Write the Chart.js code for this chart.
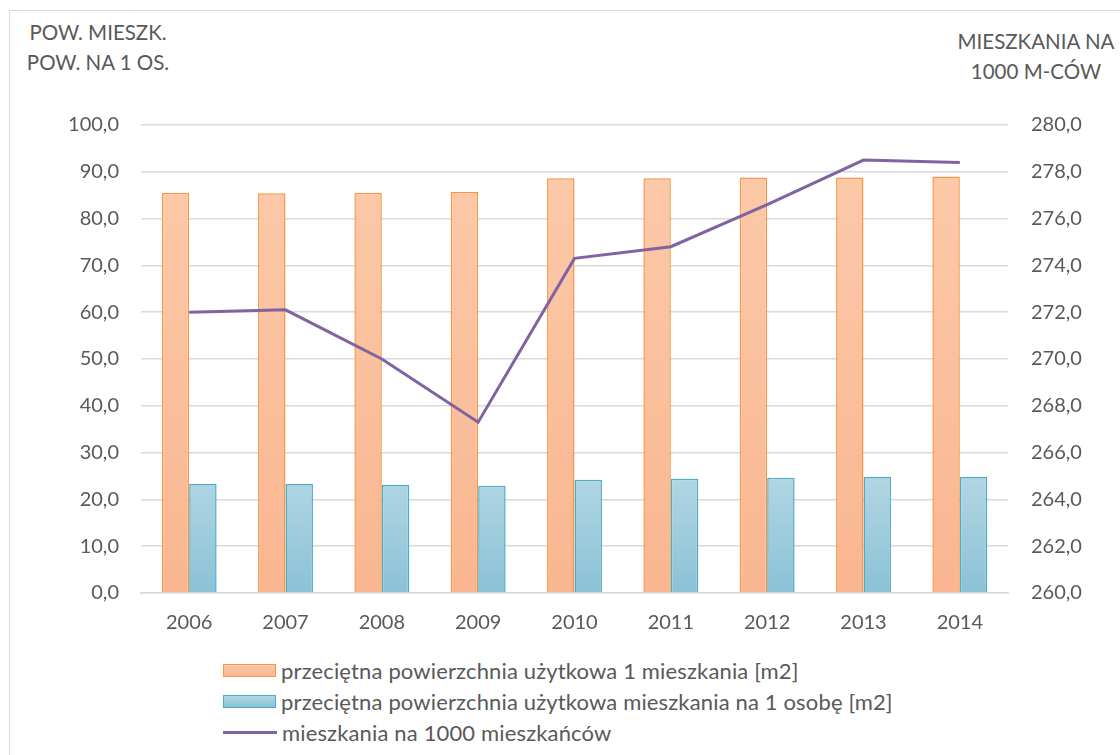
<!DOCTYPE html>
<html>
<head>
<meta charset="utf-8">
<script src="https://cdn.jsdelivr.net/npm/chart.js@4/dist/chart.umd.min.js"></script>
<style>
  body { margin: 0; background: #fff; font-family: 'Lato', sans-serif; color: #595959; }
  #wrap { position: relative; width: 1120px; height: 755px; overflow: hidden; }
  #frame { position: absolute; left: 9px; top: 10px; width: 1200px; height: 800px; border: 1.5px solid #d9d9d9; }
  #box { position: absolute; left: 0; top: 0; width: 1120px; height: 650px; }
  .ttl { position: absolute; font-size: 20.5px; line-height: 30px; text-align: center; white-space: nowrap; }
  #legend { position: absolute; left: 223px; top: 655px; font-size: 22px; letter-spacing: 0.15px; }
  .row { height: 31px; display: flex; align-items: center; }
  .sw { width: 51px; height: 11px; margin-right: 5px; }
  .ln { width: 54px; height: 3px; margin-right: 5px; background: #8064a2; }
</style>
</head>
<body>
<div id="wrap">
  <div id="frame"></div>
  <div class="ttl" style="left:18px; top:17px; width:160px;">POW. MIESZK.<br>POW. NA 1 OS.</div>
  <div class="ttl" style="left:950px; top:26px; width:172px;">MIESZKANIA NA<br>1000 M-CÓW</div>
  <div id="box"><canvas id="chart"></canvas></div>
  <div id="legend"></div>
</div>
<script>
const years = ['2006', '2007', '2008', '2009', '2010', '2011', '2012', '2013', '2014'];
const avgArea = [85.5, 85.4, 85.5, 85.7, 88.6, 88.6, 88.8, 88.8, 89.0];
const areaPerPerson = [23.3, 23.3, 23.1, 22.9, 24.2, 24.4, 24.6, 24.8, 24.8];
const dwellingsPer1000 = [272.0, 272.1, 270.0, 267.3, 274.3, 274.8, 276.6, 278.5, 278.4];
const labels = [
    'przeciętna powierzchnia użytkowa 1 mieszkania [m2]',
    'przeciętna powierzchnia użytkowa mieszkania na 1 osobę [m2]',
    'mieszkania na 1000 mieszkańców'
];

const txt = '#595959';
const fmt = (v) => v.toFixed(1).replace('.', ',');

// gradient od wartosci "hi" do zera na osi lewej
function grad(c, hi, top, bottom) {
    const chart = c.chart;
    const y = chart.scales.y;
    if (!chart.chartArea || !y) return top;
    const g = chart.ctx.createLinearGradient(0, y.getPixelForValue(hi), 0, y.getPixelForValue(0));
    g.addColorStop(0, top);
    g.addColorStop(1, bottom);
    return g;
}

new Chart(document.getElementById('chart'), {
    data: {
        labels: years,
        datasets: [
            {
                type: 'line',
                label: labels[2],
                data: dwellingsPer1000,
                yAxisID: 'y2',
                borderColor: '#8064a2',
                borderWidth: 3,
                pointRadius: 0,
                tension: 0,
                order: 0,
            },
            {
                type: 'bar',
                label: labels[0],
                data: avgArea,
                yAxisID: 'y',
                backgroundColor: (c) => grad(c, 89, '#fcc9a9', '#f9b690'),
                borderColor: '#f79646',
                borderWidth: 1.5,
                categoryPercentage: 0.57,
                barPercentage: 1,
                order: 1,
            },
            {
                type: 'bar',
                label: labels[1],
                data: areaPerPerson,
                yAxisID: 'y',
                backgroundColor: (c) => grad(c, 25, '#b2d6e4', '#8ac2d5'),
                borderColor: '#4bacc6',
                borderWidth: 1.5,
                categoryPercentage: 0.57,
                barPercentage: 1,
                order: 1,
            },
        ],
    },
    options: {
        responsive: true,
        maintainAspectRatio: false,
        animation: false,
        layout: { padding: { top: 125, left: 0, right: 0, bottom: 0 } },
        plugins: { legend: { display: false }, tooltip: { enabled: false } },
        scales: {
            x: {
                grid: { display: false, drawTicks: false },
                border: { color: '#d9d9d9', width: 1.5 },
                ticks: { color: txt, font: { family: 'Lato', size: 20 }, padding: 18 },
                afterFit: (s) => { s.height = 57; },
            },
            y: {
                position: 'left',
                min: 0,
                max: 100,
                grid: { color: '#d9d9d9', lineWidth: 1.5, drawTicks: false },
                border: { display: false },
                ticks: { stepSize: 10, color: txt, font: { family: 'Lato', size: 20 }, padding: 22, callback: fmt },
                afterFit: (s) => { s.width = 141; },
            },
            y2: {
                position: 'right',
                min: 260,
                max: 280,
                grid: { display: false, drawTicks: false },
                border: { display: false },
                ticks: { stepSize: 2, color: txt, font: { family: 'Lato', size: 20 }, padding: 23, callback: fmt },
                afterFit: (s) => { s.width = 112; },
            },
        },
    },
});

// legenda w kolumnie
const legend = document.getElementById('legend');
const swatches = [
    'background:linear-gradient(#fcc9a9,#f9b690);border:1.5px solid #f79646;',
    'background:linear-gradient(#b2d6e4,#8ac2d5);border:1.5px solid #4bacc6;',
    null
];
labels.forEach((l, i) => {
    const row = document.createElement('div');
    row.className = 'row';
    const mark = document.createElement('div');
    if (swatches[i]) {
        mark.className = 'sw';
        mark.style.cssText = swatches[i];
    } else {
        mark.className = 'ln';
    }
    row.appendChild(mark);
    const span = document.createElement('span');
    span.textContent = l;
    row.appendChild(span);
    legend.appendChild(row);
});
</script>
</body>
</html>
